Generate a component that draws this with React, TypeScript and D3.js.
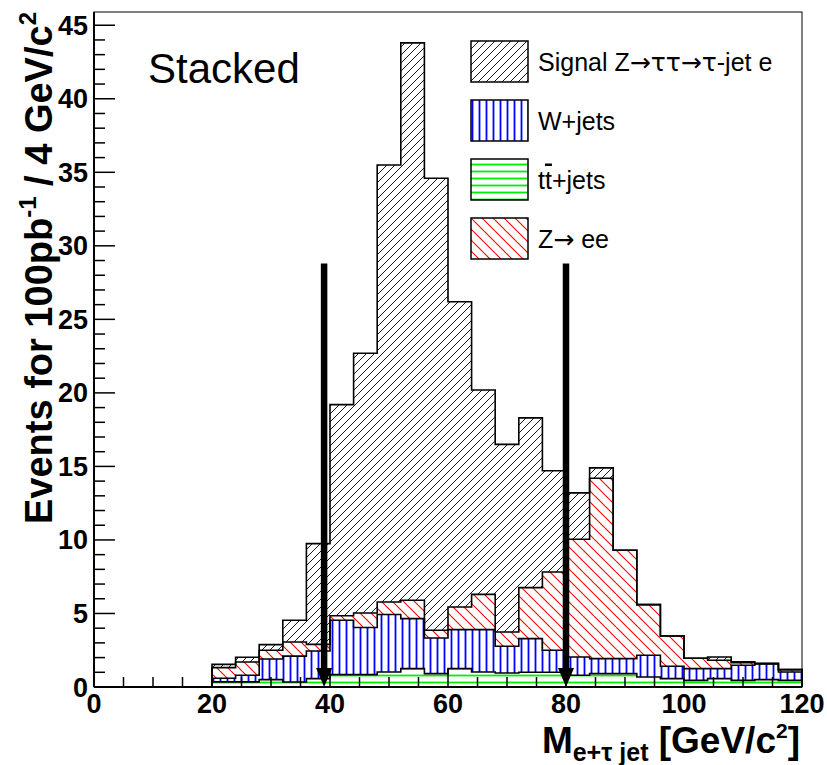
import React from 'react';
import * as d3 from 'd3';

// ---- data (events per 4 GeV bin, individual contributions) ----
const binLow = [20, 24, 28, 32, 36, 40, 44, 48, 52, 56, 60, 64, 68, 72, 76, 80, 84, 88, 92, 96, 100, 104, 108, 112, 116];
const BIN_WIDTH = 4;
const ttbar = [0.35, 0.35, 0.5, 0.34, 0.57, 0.84, 0.84, 1.02, 1.25, 0.91, 1.25, 1.02, 0.95, 1.0, 1.0, 0.8, 0.91, 0.91, 0.68, 0.57, 0.45, 0.57, 0.45, 0.5, 0.45];
const wjets = [0.25, 0.45, 1.4, 1.76, 1.88, 3.7, 3.21, 3.91, 3.4, 2.42, 2.65, 2.88, 1.82, 2.29, 1.5, 1.24, 1.02, 1.02, 1.48, 0.84, 0.8, 0.68, 1.03, 1.09, 0.57];
const zee = [0.72, 0.9, 0.6, 0.96, 0.45, 0.31, 0.98, 0.85, 1.25, 0.53, 1.54, 2.4, 0.97, 3.47, 5.32, 8.01, 12.27, 7.37, 3.44, 2.06, 0.7, 0.57, 0.17, 0, 0.16];
const signal = [0.22, 0.32, 0.38, 1.48, 6.85, 14.35, 17.67, 29.72, 37.9, 30.74, 20.76, 13.9, 12.76, 11.54, 6.88, 3.15, 0.7, 0, 0, 0, 0, 0.22, 0.07, 0, 0];

const xTicks = [0, 20, 40, 60, 80, 100, 120];
const yTicks = [0, 5, 10, 15, 20, 25, 30, 35, 40, 45];
const cutValues = [39, 80];
const arrowTop = 28.8;
const legendLabels = ['signal', 'wjets', 'ttbar', 'zee'];

const FONT = "'Liberation Sans', Arial, Helvetica, sans-serif";
const SYM = "'DejaVu Sans', sans-serif";

export default function App() {
  const W = 827, H = 765;
  const x = d3.scaleLinear().domain([0, 120]).range([94, 802]);
  const y = d3.scaleLinear().domain([0, 45.9]).range([687, 12]);

  const rows = binLow.map((lo, i) => ({ lo, ttbar: ttbar[i], wjets: wjets[i], zee: zee[i], signal: signal[i] }));
  const keys = ['ttbar', 'wjets', 'zee', 'signal'];
  const stacked = d3.stack<any>().keys(keys)(rows);

  const fills: Record<string, string> = {
    ttbar: 'url(#hTT)', wjets: 'url(#hW)', zee: 'url(#hZ)', signal: 'url(#hSig)',
  };

  const area = d3.area<any>()
    .x((d) => x(d.xv))
    .y0((d) => y(d.y0))
    .y1((d) => y(d.y1))
    .curve(d3.curveStepAfter);

  const line = d3.line<any>().x((d) => x(d[0])).y((d) => y(d[1]));

  const bands = stacked.map((layer) => {
    const pts = layer.map((s, i) => ({ xv: rows[i].lo, y0: s[0], y1: s[1] }));
    const last = pts[pts.length - 1];
    pts.push({ xv: last.xv + BIN_WIDTH, y0: last.y0, y1: last.y1 });
    return { key: layer.key, d: area(pts) as string };
  });

  const outlines = stacked.map((layer) => {
    const pts: [number, number][] = [[binLow[0], 0]];
    layer.forEach((s, i) => {
      pts.push([rows[i].lo, s[1]]);
      pts.push([rows[i].lo + BIN_WIDTH, s[1]]);
    });
    pts.push([binLow[binLow.length - 1] + BIN_WIDTH, 0]);
    return { key: layer.key, d: line(pts) as string };
  }).reverse();

  const xMinor = d3.range(0, 121, 5);
  const yMinor = d3.range(0, 46, 1);

  const legendText: Record<string, React.ReactNode> = {
    signal: <>Signal Z<tspan fontFamily={SYM}>→ττ→τ</tspan>-jet e</>,
    wjets: <>W+jets</>,
    ttbar: <>t<tspan style={{ textDecoration: 'overline' }}>t</tspan>+jets</>,
    zee: <>Z<tspan fontFamily={SYM}>→</tspan> ee</>,
  };

  return (
    <svg width={W} height={H} style={{ position: 'absolute', left: 0, top: 0, background: '#fff' }} fontFamily={FONT}>
      <defs>
        <pattern id="hSig" patternUnits="userSpaceOnUse" width={8} height={8}>
          <path d="M-2,2 l4,-4 M0,8 l8,-8 M6,10 l4,-4" stroke="#000" strokeWidth={0.9} />
        </pattern>
        <pattern id="hZ" patternUnits="userSpaceOnUse" width={11} height={11}>
          <path d="M0,0 l11,11 M-3,8 l3,3 M8,-3 l3,3" stroke="#ff0000" strokeWidth={1.1} />
        </pattern>
        <pattern id="hW" patternUnits="userSpaceOnUse" width={7} height={10}>
          <path d="M3.5,0 V10" stroke="#0000ff" strokeWidth={1.8} />
        </pattern>
        <pattern id="hTT" patternUnits="userSpaceOnUse" width={10} height={7}>
          <path d="M0,3.5 H10" stroke="#00ee00" strokeWidth={1.8} />
        </pattern>
      </defs>
      <rect x={0} y={0} width={W} height={H} fill="#fff" />

      {/* frame */}
      <rect x={x(0)} y={y.range()[1]} width={x(120) - x(0)} height={y(0) - y.range()[1]} fill="none" stroke="#000" strokeWidth={1} />

      {/* stacked bands */}
      {bands.map((b) => (
        <path key={b.key} d={b.d} fill={fills[b.key]} stroke="none" />
      ))}
      {outlines.map((o) => (
        <path key={o.key} d={o.d} fill="none" stroke="#000" strokeWidth={1.6} />
      ))}

      {/* axes */}
      <line x1={x(0)} x2={x(120)} y1={y(0)} y2={y(0)} stroke="#000" strokeWidth={2} />
      <line x1={x(0)} x2={x(0)} y1={y(0)} y2={y.range()[1]} stroke="#000" strokeWidth={2} />
      {xMinor.map((v) => (
        <line key={'xm' + v} x1={x(v)} x2={x(v)} y1={y(0)} y2={y(0) - (v % 20 === 0 ? 18 : 10)} stroke="#000" strokeWidth={1.5} />
      ))}
      {yMinor.map((v) => (
        <line key={'ym' + v} x1={x(0)} x2={x(0) + (v % 5 === 0 ? 21 : 11)} y1={y(v)} y2={y(v)} stroke="#000" strokeWidth={1.5} />
      ))}
      {xTicks.map((v) => (
        <text key={'xt' + v} x={x(v)} y={y(0) + 26} textAnchor="middle" fontSize={27} fontWeight="bold">{v}</text>
      ))}
      {yTicks.map((v) => (
        <text key={'yt' + v} x={x(0) - 6} y={y(v) + 9.5} textAnchor="end" fontSize={27} fontWeight="bold">{v}</text>
      ))}

      {/* axis titles */}
      <text x={800} y={753} textAnchor="end" fontSize={37} fontWeight="bold">
        M<tspan fontSize={25} dy={8}>e+τ jet</tspan>
        <tspan fontSize={37} dy={-8}> [GeV/c</tspan>
        <tspan fontSize={21} dy={-15}>2</tspan>
        <tspan fontSize={37} dy={15}>]</tspan>
      </text>
      <text transform={`translate(52, ${y.range()[1]}) rotate(-90)`} textAnchor="end" fontSize={38} fontWeight="bold">
        Events for 100pb<tspan fontSize={24} dy={-16}>-1</tspan>
        <tspan fontSize={38} dy={16}> / 4 GeV/c</tspan>
        <tspan fontSize={24} dy={-16}>2</tspan>
      </text>

      <text x={148} y={83} fontSize={42}>Stacked</text>

      {/* legend */}
      {legendLabels.map((k, i) => {
        const top = 41 + i * 59;
        return (
          <g key={'lg' + k}>
            <rect x={471} y={top} width={57} height={41} fill={fills[k]} stroke="#000" strokeWidth={1.5} />
            <text x={538} y={top + 20.5 + 9} fontSize={25}>{legendText[k]}</text>
          </g>
        );
      })}

      {/* cut arrows */}
      {cutValues.map((c) => (
        <g key={'cut' + c}>
          <line x1={x(c)} x2={x(c)} y1={y(arrowTop)} y2={y(0) - 16} stroke="#000" strokeWidth={6.5} />
          <polygon points={`${x(c) - 8},${y(0) - 19} ${x(c) + 8},${y(0) - 19} ${x(c)},${y(0)}`} fill="#000" />
        </g>
      ))}
    </svg>
  );
}
